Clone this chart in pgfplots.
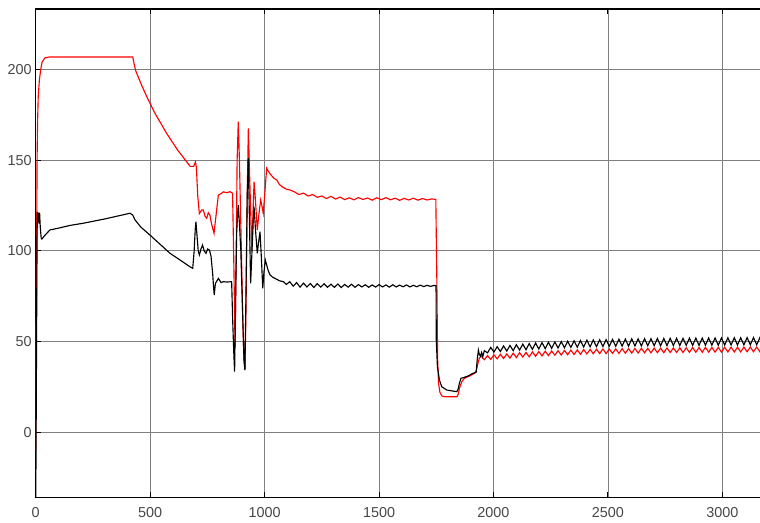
\documentclass[border=0pt]{standalone}
\usepackage{pgfplots}
\pgfplotsset{compat=1.18}
\usepackage{fontspec}
\setmainfont{Liberation Sans}
\begin{document}
\begin{tikzpicture}
\useasboundingbox (0,0) rectangle (570pt,391.5pt);
\begin{axis}[
  at={(26.78pt,18.23pt)}, anchor=south west,
  scale only axis, width=545.9pt, height=366.5pt,
  xmin=0, xmax=3180, ymin=-36, ymax=233.2,
  xtick={0,500,1000,1500,2000,2500,3000},
  ytick={0,50,100,150,200},
  grid=major,
  major grid style={draw=black!50, line width=0.6pt},
  axis line style={draw=black, line width=0.8pt},
  tick style={draw=black, line width=0.8pt},
  tick align=inside, major tick length=4pt,
  xtick pos=both, ytick pos=left,
  /pgf/number format/assume math mode=true,
  /pgf/number format/set thousands separator={},
  tick label style={font=\fontsize{10.8}{12}\selectfont, text=black!72},
  xticklabel style={yshift=-3.5pt},
  yticklabel style={xshift=0.5pt},
]
\addplot[red, line width=0.85pt] coordinates {
(0,-10)(2,40)(4,100)(6,150)(8,170)(11,185)(16,194)(22,200)(28,204)(40,206.3)(60,206.8)(200,206.8)(424,206.8)
(430,203)(436,199.5)(460,192)(485,185)(520,176)(572,164.7)(620,155.5)(660,149)(675,146.5)(690,146.5)(698,149)
(702,146)(708,130)(715,120.5)(725,122.5)(732,122.5)(740,119)(747,117.9)(754,121)(761,119.7)(768,115)(779,109.6)
(790,122)(798,130.7)(810,131.5)(820,132.5)(835,132)(849,132.6)(860,131.7)(866,90)(871,47.2)(876,100)(880,150)
(885,171.1)(890,150)(897,109.6)(905,60)(910,40)(914,34.3)(919,70)(924,130)(929,167.5)(935,140)(944,100.4)
(949,120)(954,138.1)(960,128)(968,111.5)(975,120)(983,128.0)(988,125)(994,120.7)(1000,130)(1009,145.5)
(1020,143)(1030,141.5)(1040,140)(1053,139.0)(1065,136.5)(1080,135)(1095,134)(1111,133.5)
(1130,132.5)(1150,131)(1170,131.8)(1190,130.2)(1210,131)(1230,129.5)(1250,130.2)(1270,128.8)(1290,130)
(1310,128.5)(1330,129.6)(1350,128.2)(1370,129.2)(1390,128.1)(1410,129.3)(1430,128.3)(1450,129.1)(1470,127.9)
(1490,129.2)(1510,128.2)(1530,129.3)(1550,128.1)(1570,129.0)(1590,127.8)(1610,128.9)(1630,128.0)(1650,129.0)
(1670,127.9)(1690,128.8)(1710,128.0)(1730,128.6)(1748,128.3)
(1752,90)(1756,40)(1760,27)(1766,22)(1775,20)(1790,19.6)(1840,19.6)(1846,21)(1851,24.2)(1862,28)(1873,29.8)
(1895,31)(1917,32.5)(1925,34)(1932,38)(1938,40.8)
(1946,42.0)(1960,40.0)(1974,42.3)(1988,40.2)(2002,42.7)(2016,40.5)(2030,43.0)(2044,40.7)(2058,43.2)(2072,40.9)
(2086,43.6)(2100,41.2)(2114,43.9)(2128,41.5)(2142,44.0)(2156,41.6)(2170,44.3)(2184,41.9)(2198,44.5)(2212,42.1)
(2226,44.7)(2240,42.3)(2254,44.8)(2268,42.5)(2282,45.0)(2296,42.6)(2310,45.1)(2324,42.8)(2338,45.3)(2352,42.9)
(2366,45.4)(2380,43.0)(2394,45.6)(2408,43.2)(2422,45.7)(2436,43.3)(2450,45.8)(2464,43.4)(2478,45.9)(2492,43.4)
(2506,45.9)(2520,43.5)(2534,46.0)(2548,43.5)(2562,46.1)(2576,43.6)(2590,46.1)(2604,43.7)(2618,46.2)(2632,43.7)
(2646,46.3)(2660,43.8)(2674,46.3)(2688,43.8)(2702,46.4)(2716,43.9)(2730,46.4)(2744,43.9)(2758,46.5)(2772,44.0)
(2786,46.5)(2800,44.0)(2814,46.6)(2828,44.0)(2842,46.6)(2856,44.1)(2870,46.7)(2884,44.1)(2898,46.7)(2912,44.1)
(2926,46.8)(2940,44.2)(2954,46.8)(2968,44.2)(2982,46.8)(2996,44.2)(3010,46.9)(3024,44.3)(3038,46.9)(3052,44.3)
(3066,46.9)(3080,44.3)(3094,47.0)(3108,44.4)(3122,47.0)(3136,44.4)(3150,47.0)(3164,44.4)(3178,47.0)
};
\addplot[black, line width=0.85pt] coordinates {
(0,-45)(3,30)(6,110)(8,121)(11,120.7)(14,115)(17,121)(20,113)(24,107)(27,106.5)(40,108.5)(62,111.5)(100,112.5)
(150,114)(208,115.2)(300,117.5)(412,120.7)(424,119.7)(434,117)(460,113)(499,108.7)(540,104)(587,98.6)(630,95)
(674,91.2)(686,90.4)(692,99.5)(697,112)(700,116)(705,108)(710,100)(715,97.7)(722,101)(729,103.2)(736,100)
(744,98.6)(751,101)(759,100.4)(766,97)(773,87.6)(777,80)(780,75.6)(785,82)(798,84.8)(810,82.5)(820,83.0)
(835,82.8)(856,83.0)(861,60)(866,41.7)(869,33.4)(873,70)(878,110)(882,120)(885,125.2)(890,115)(896,100.4)
(903,70)(910,39.8)(914,34.3)(919,80)(924,130)(929,151.0)(934,115)(939,82.1)(945,100)(950,115)(954,124.3)
(960,112)(968,98.6)(974,105)(980,110.5)(986,96)(992,79.3)(997,88)(1003,95)(1009,92.2)(1016,89)(1024,86.7)
(1035,85.5)(1050,84.5)(1065,83.5)(1082,83.0)
(1095,81.5)(1110,83)(1125,80.5)(1140,82.5)(1155,80.0)(1170,82.2)(1185,80.1)(1200,82.0)(1215,79.8)(1230,81.9)
(1245,80.0)(1260,81.8)(1275,79.9)(1290,81.6)(1305,79.9)(1320,81.7)(1335,79.8)(1350,81.5)(1365,80.0)(1380,81.6)
(1395,79.9)(1410,81.4)(1425,80.1)(1440,81.3)(1455,79.9)(1470,81.2)(1485,80.0)(1500,81.4)(1515,80.1)(1530,81.2)
(1545,80.0)(1560,81.3)(1575,80.1)(1590,81.1)(1605,80.2)(1620,81.2)(1635,80.1)(1650,81.0)(1665,80.2)(1680,81.1)
(1695,80.3)(1710,81.0)(1725,80.4)(1740,80.9)(1749,80.8)
(1750,51)(1755,36.1)(1764,28.8)(1774,25.1)(1796,23.3)(1840,22.4)(1846,24)(1851,27.0)(1858,29.8)(1870,30.2)
(1888,31.0)(1900,31.8)(1910,32.5)(1924,33)(1929,40)(1934,45.3)(1938,43)(1943,42.0)(1948,44)(1953,41.7)(1960,45.0)
(1974,43.8)(1988,46.8)(2002,44.2)(2016,47.2)(2030,44.5)(2044,47.6)(2058,44.8)(2072,47.9)(2086,45.0)(2100,48.3)
(2114,45.3)(2128,48.6)(2142,45.5)(2156,48.9)(2170,45.7)(2184,49.2)(2198,45.9)(2212,49.4)(2226,46.1)(2240,49.6)
(2254,46.3)(2268,49.8)(2282,46.5)(2296,50.0)(2310,46.6)(2324,50.2)(2338,46.8)(2352,50.4)(2366,46.9)(2380,50.6)
(2394,47.0)(2408,50.8)(2422,47.1)(2436,50.9)(2450,47.2)(2464,51.0)(2478,47.3)(2492,51.1)(2506,47.4)(2520,51.2)
(2534,47.4)(2548,51.3)(2562,47.5)(2576,51.4)(2590,47.5)(2604,51.5)(2618,47.6)(2632,51.5)(2646,47.6)(2660,51.6)
(2674,47.7)(2688,51.6)(2702,47.7)(2716,51.7)(2730,47.7)(2744,51.7)(2758,47.8)(2772,51.8)(2786,47.8)(2800,51.8)
(2814,47.8)(2828,51.8)(2842,47.9)(2856,51.9)(2870,47.9)(2884,51.9)(2898,47.9)(2912,51.9)(2926,48.0)(2940,52.0)
(2954,48.0)(2968,52.0)(2982,48.0)(2996,52.0)(3010,48.1)(3024,52.1)(3038,48.1)(3052,52.1)(3066,48.1)(3080,52.1)
(3094,48.2)(3108,52.2)(3122,48.2)(3136,52.2)(3150,48.2)(3164,52.2)(3178,48.3)
};
\end{axis}
\end{tikzpicture}
\end{document}
